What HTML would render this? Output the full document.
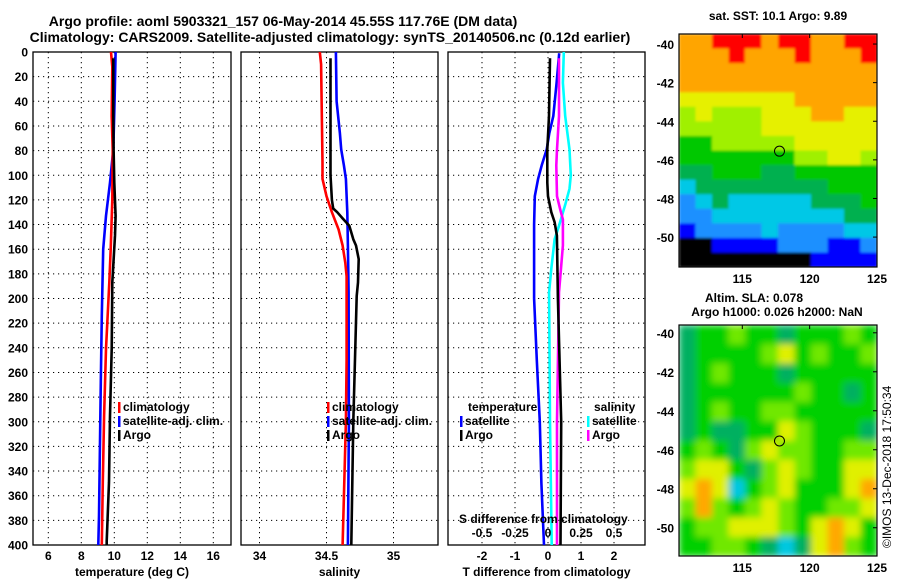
<!DOCTYPE html>
<html><head><meta charset="utf-8"><style>
html,body{margin:0;padding:0;background:#fff;}
svg{display:block;font-family:"Liberation Sans",Arial,sans-serif;font-weight:bold;}
</style></head><body>
<svg id="fig" width="900" height="580" viewBox="0 0 900 580">
<defs>
<clipPath id="clipM1"><rect x="679" y="34" width="198" height="233"/></clipPath>
<clipPath id="clipM2"><rect x="679" y="325" width="198" height="231"/></clipPath>
<filter id="blur2" x="0" y="0" width="1" height="1"><feGaussianBlur stdDeviation="1.2" edgeMode="duplicate"/></filter>
<filter id="blur6" x="0" y="0" width="1" height="1"><feGaussianBlur stdDeviation="3.5" edgeMode="duplicate"/></filter>
</defs>
<text x="283" y="26" font-size="14" text-anchor="middle">Argo profile: aoml 5903321_157 06-May-2014 45.55S 117.76E (DM data)</text>
<text x="330" y="42" font-size="14" text-anchor="middle">Climatology: CARS2009. Satellite-adjusted climatology: synTS_20140506.nc (0.12d earlier)</text>
<g id="panels"></g>
<g id="maps"></g>
<text x="778" y="20" font-size="12" text-anchor="middle">sat. SST: 10.1 Argo: 9.89</text>
<text x="754" y="302" font-size="12" text-anchor="middle">Altim. SLA: 0.078</text>
<text x="777" y="316" font-size="12" text-anchor="middle">Argo h1000: 0.026 h2000: NaN</text>
<text transform="translate(891,548) rotate(-90)" font-size="12" font-weight="normal">©IMOS 13-Dec-2018 17:50:34</text>
</svg>
<script>
// ---------- profile data ----------
const depthTicks = [0,20,40,60,80,100,120,140,160,180,200,220,240,260,280,300,320,340,360,380,400];
const tempTicks = [6,8,10,12,14,16];
const salTicks = [34,34.5,35];
const salTickLabels = ["34","34.5","35"];
const dTTicks = [-2,-1,0,1,2];
const dSTicks = [-0.5,-0.25,0,0.25,0.5];
const dSTickLabels = ["-0.5","-0.25","0","0.25","0.5"];

const tempArgoDepth = [5,50,79,106,133,149,187,241,295,349,397,400];
const tempArgo = [9.94,9.94,9.96,10.0,10.08,10.04,9.88,9.84,9.74,9.68,9.54,9.54];
const tempClimDepth = [0,12,52,79,120,160,187,241,295,349,400];
const tempClim = [9.8,9.88,9.84,9.9,9.88,9.78,9.7,9.5,9.38,9.3,9.24];
const tempSatDepth = [0,39,79,106,133,160,214,268,322,376,400];
const tempSat = [10.08,10.02,9.94,9.74,9.5,9.33,9.24,9.18,9.13,9.07,9.03];

const salClimDepth = [0,10,90,103,117,130,144,157,171,182,250,300,400];
const salClim = [34.45,34.46,34.47,34.47,34.5,34.54,34.59,34.62,34.64,34.65,34.65,34.645,34.62];
const salSatDepth = [0,40,66,79,92,103,130,157,195,300,400];
const salSat = [34.57,34.575,34.6,34.61,34.63,34.645,34.655,34.66,34.665,34.667,34.66];
const salArgoDepth = [5,100,120,127,130,135,141,152,157,168,187,198,300,400];
const salArgo = [34.53,34.53,34.54,34.55,34.58,34.62,34.67,34.7,34.72,34.74,34.735,34.725,34.7,34.685];

const dTSatDepth = [1,25,52,66,79,92,103,117,140,200,250,300,350,400];
const dTSat = [0.34,0.26,0.16,0.04,-0.04,-0.19,-0.3,-0.4,-0.42,-0.42,-0.34,-0.25,-0.2,-0.12];
const dTArgoDepth = [5,52,79,106,117,130,138,149,200,300,400];
const dTArgo = [0.06,0.03,-0.02,-0.02,0,0.1,0.2,0.27,0.3,0.4,0.38];
const dSArgoDepth = [5,52,79,92,117,128,136,157,195,300,400];
const dSArgo = [0.083,0.083,0.068,0.063,0.068,0.093,0.113,0.113,0.083,0.068,0.068];
const dSSatDepth = [0,25,52,79,100,111,124,141,152,176,195,300,400];
const dSSat = [0.12,0.113,0.13,0.163,0.173,0.163,0.13,0.083,0.05,0.025,0.008,0.015,0.028];

// ---------- map data ----------
const sstColors = ["#000000","#0000ff","#1e90ff","#00c8e6","#00b050","#00c800","#a0f000","#e6f000","#ffa500","#ff0000"];
const sstGrid = [
[8,8,9,9,9,8,9,9,8,8,9,9],
[8,8,8,9,8,8,8,9,8,8,8,9],
[8,8,8,8,8,8,8,8,8,8,8,8],
[8,8,8,8,8,8,8,8,8,8,8,8],
[7,7,7,7,7,7,7,8,8,8,8,8],
[6,7,6,6,6,7,7,7,8,8,7,7],
[6,6,6,6,6,7,7,7,7,7,7,7],
[5,5,6,6,6,6,6,7,7,7,7,7],
[5,5,5,5,5,5,5,6,6,7,7,6],
[4,4,5,5,5,4,4,5,5,5,5,5],
[3,4,4,4,4,4,4,4,4,5,5,5],
[2,3,4,3,3,3,3,3,4,4,4,5],
[2,2,3,3,3,3,3,3,3,3,4,4],
[1,2,2,2,2,3,2,2,2,2,3,3],
[0,0,1,1,1,1,2,2,2,1,1,2],
[0,0,0,0,0,0,0,0,1,1,1,1]];
const slaColors = ["#00c8e0","#00b060","#00d000","#70e800","#e0f000","#ffa800"];
const slaGrid = [
[1,2,2,3,2,2,1,2,2,2,3,2],
[1,2,2,2,2,3,4,2,3,2,2,3],
[1,2,3,2,2,2,1,2,2,2,2,2],
[1,2,2,2,2,2,2,3,2,2,1,2],
[1,2,3,2,2,3,3,2,2,2,2,2],
[1,2,1,1,2,2,4,3,2,2,2,1],
[2,3,2,1,3,4,3,3,2,2,3,3],
[3,4,4,2,1,3,4,3,2,2,4,4],
[4,5,4,0,2,3,4,2,2,2,4,5],
[3,5,3,2,3,4,3,2,2,3,3,4],
[2,3,3,4,4,4,3,2,4,5,4,2],
[2,2,3,3,2,1,0,1,4,5,3,2]];
const map1LatTicks = [-40,-42,-44,-46,-48,-50];
const map2LatTicks = [-40,-42,-44,-46,-48,-50];
const lonTicks = [115,120,125];
const argoPos = [117.76,-45.55];

const NS = "http://www.w3.org/2000/svg";
function mk(tag, attrs, parent){const e=document.createElementNS(NS,tag);for(const k in attrs)e.setAttribute(k,attrs[k]);parent.appendChild(e);return e;}
const Y0 = 52, Y1 = 545;
const yD = d => Y0 + d*(Y1-Y0)/400;
const panelsG = document.getElementById('panels');

function drawPanel(name, x0, x1, xf, ticks, labels, xtitle){
  const g = mk('g',{},panelsG);
  
  
  ticks.forEach(t=>{
    const l = mk('line',{x1:xf(t),x2:xf(t),y1:Y0,y2:Y1,stroke:'#000','stroke-width':1,'stroke-dasharray':'1.2,3.8'},g);
    
    
    const tx = mk('text',{x:xf(t),y:560,'font-size':12,'text-anchor':'middle'},g);
    tx.textContent = labels ? labels[ticks.indexOf(t)] : String(t);
    
    
  });
  depthTicks.forEach(d=>{
    if(d===0||d===400) return;
    const l = mk('line',{x1:x0,x2:x1,y1:yD(d),y2:yD(d),stroke:'#000','stroke-width':1,'stroke-dasharray':'1.2,3.8'},g);
    
    
  });
  const r = mk('rect',{x:x0,y:Y0,width:x1-x0,height:Y1-Y0,fill:'none',stroke:'#000','stroke-width':1.3},g);
  
  
  const t = mk('text',{x:(x0+x1)/2,y:576,'font-size':12,'text-anchor':'middle'},g);
  t.textContent = xtitle;
  
  
  return g;
}
function drawLine(g, name, depths, vals, xf, color){
  const pts = depths.map((d,i)=>xf(vals[i]).toFixed(1)+','+yD(d).toFixed(1)).join(' ');
  const p = mk('polyline',{points:pts,fill:'none',stroke:color,'stroke-width':2.6,'stroke-linejoin':'round'},g);
  
  
}
function legendEntry(g, name, x, y, color, label){
  const m = mk('rect',{x:x,y:y-9,width:2.5,height:11,fill:color},g);
  
  
  const t = mk('text',{x:x+5,y:y,'font-size':12},g);
  t.textContent = label;
  
  
}

depthTicks.forEach(d=>{
  const t = mk('text',{x:28,y:yD(d)+4.5,'font-size':12,'text-anchor':'end'},panelsG);
  t.textContent = d;
  
  
});

const tx = v => 114.3 + (v-10)*16.5;
const sx = v => 326.5 + (v-34.5)*134;
const dx = v => 548 + v*33;
const dsx = v => 548 + v*132;

const g1 = drawPanel('temperature', 33, 231, tx, tempTicks, null, 'temperature (deg C)');
drawLine(g1,'temp-satellite-line',tempSatDepth,tempSat,tx,'#0000ff');
drawLine(g1,'temp-climatology-line',tempClimDepth,tempClim,tx,'#ff0000');
drawLine(g1,'temp-argo-line',tempArgoDepth,tempArgo,tx,'#000000');
legendEntry(g1,'legend-climatology',118,411,'#ff0000','climatology');
legendEntry(g1,'legend-satellite-adj',118,425,'#0000ff','satellite-adj. clim.');
legendEntry(g1,'legend-argo',118,439,'#000000','Argo');

const g2 = drawPanel('salinity', 241, 438, sx, salTicks, salTickLabels, 'salinity');
drawLine(g2,'sal-satellite-line',salSatDepth,salSat,sx,'#0000ff');
drawLine(g2,'sal-climatology-line',salClimDepth,salClim,sx,'#ff0000');
drawLine(g2,'sal-argo-line',salArgoDepth,salArgo,sx,'#000000');
legendEntry(g2,'legend-climatology-2',327,411,'#ff0000','climatology');
legendEntry(g2,'legend-satellite-adj-2',327,425,'#0000ff','satellite-adj. clim.');
legendEntry(g2,'legend-argo-2',327,439,'#000000','Argo');

const g3 = drawPanel('difference', 448, 645, dx, dTTicks, null, 'T difference from climatology');
drawLine(g3,'dt-satellite-line',dTSatDepth,dTSat,dx,'#0000ff');
drawLine(g3,'ds-satellite-line',dSSatDepth,dSSat,dsx,'#00ffff');
drawLine(g3,'ds-argo-line',dSArgoDepth,dSArgo,dsx,'#ff00ff');
drawLine(g3,'dt-argo-line',dTArgoDepth,dTArgo,dx,'#000000');
{ const t = mk('text',{x:468,y:411,'font-size':12},g3); t.textContent='temperature';
    }
legendEntry(g3,'legend-t-satellite',460,425,'#0000ff','satellite');
legendEntry(g3,'legend-t-argo',460,439,'#000000','Argo');
{ const t = mk('text',{x:594,y:411,'font-size':12},g3); t.textContent='salinity';
    }
legendEntry(g3,'legend-s-satellite',587,425,'#00ffff','satellite');
legendEntry(g3,'legend-s-argo',587,439,'#ff00ff','Argo');
{ const t = mk('text',{x:459,y:523,'font-size':12},g3); t.textContent='S difference from climatology';
    }
dSTicks.forEach((v,i)=>{
  const t = mk('text',{x:dsx(v),y:537,'font-size':12,'text-anchor':'middle'},g3);
  t.textContent = dSTickLabels[i];
  
  
});

// ---------- maps ----------
const mapsG = document.getElementById('maps');
function drawMap(name, top, bottom, latTop, latBot, grid, colors, filt, clip, latTicks){
  const L=679, R=877, lonL=110.3, lonR=125;
  const lx = v => L + (v-lonL)*(R-L)/(lonR-lonL);
  const ly = v => top + (latTop - v)*(bottom-top)/(latTop-latBot);
  const g = mk('g',{},mapsG);
  
  
  const cg = mk('g',{'clip-path':'url(#'+clip+')'},g);
  const fg = mk('g',{filter:'url(#'+filt+')'},cg);
  const rows = grid.length, cols = grid[0].length;
  const cw = (R-L)/cols, ch = (bottom-top)/rows;
  grid.forEach((row,ri)=>row.forEach((v,ci)=>{
    const c = mk('rect',{x:L+ci*cw,y:top+ri*ch,width:cw+0.6,height:ch+0.6,fill:colors[v]},fg);
    
    
  }));
  const fr = mk('rect',{x:L,y:top,width:R-L,height:bottom-top,fill:'none',stroke:'#000','stroke-width':1.2},g);
  
  
  latTicks.forEach(v=>{
    const t = mk('text',{x:674,y:ly(v)+5,'font-size':12,'text-anchor':'end'},g);
    t.textContent = v;
    
    
    mk('line',{x1:R-4,x2:R,y1:ly(v),y2:ly(v),stroke:'#000'},g);
  });
  lonTicks.forEach(v=>{
    const t = mk('text',{x:lx(v),y:bottom+16,'font-size':12,'text-anchor':'middle'},g);
    t.textContent = v;
    
    
    mk('line',{x1:lx(v),x2:lx(v),y1:top,y2:top+4,stroke:'#000'},g);
  });
  const c = mk('circle',{cx:lx(argoPos[0]),cy:ly(argoPos[1]),r:5,fill:'none',stroke:'#000','stroke-width':1},g);
  
  
}
drawMap('sst-map',34,267,-39.48,-51.55,sstGrid,sstColors,'blur2','clipM1',map1LatTicks);
drawMap('sla-map',325,556,-39.6,-51.45,slaGrid,slaColors,'blur6','clipM2',map2LatTicks);
</script>
</body></html>
